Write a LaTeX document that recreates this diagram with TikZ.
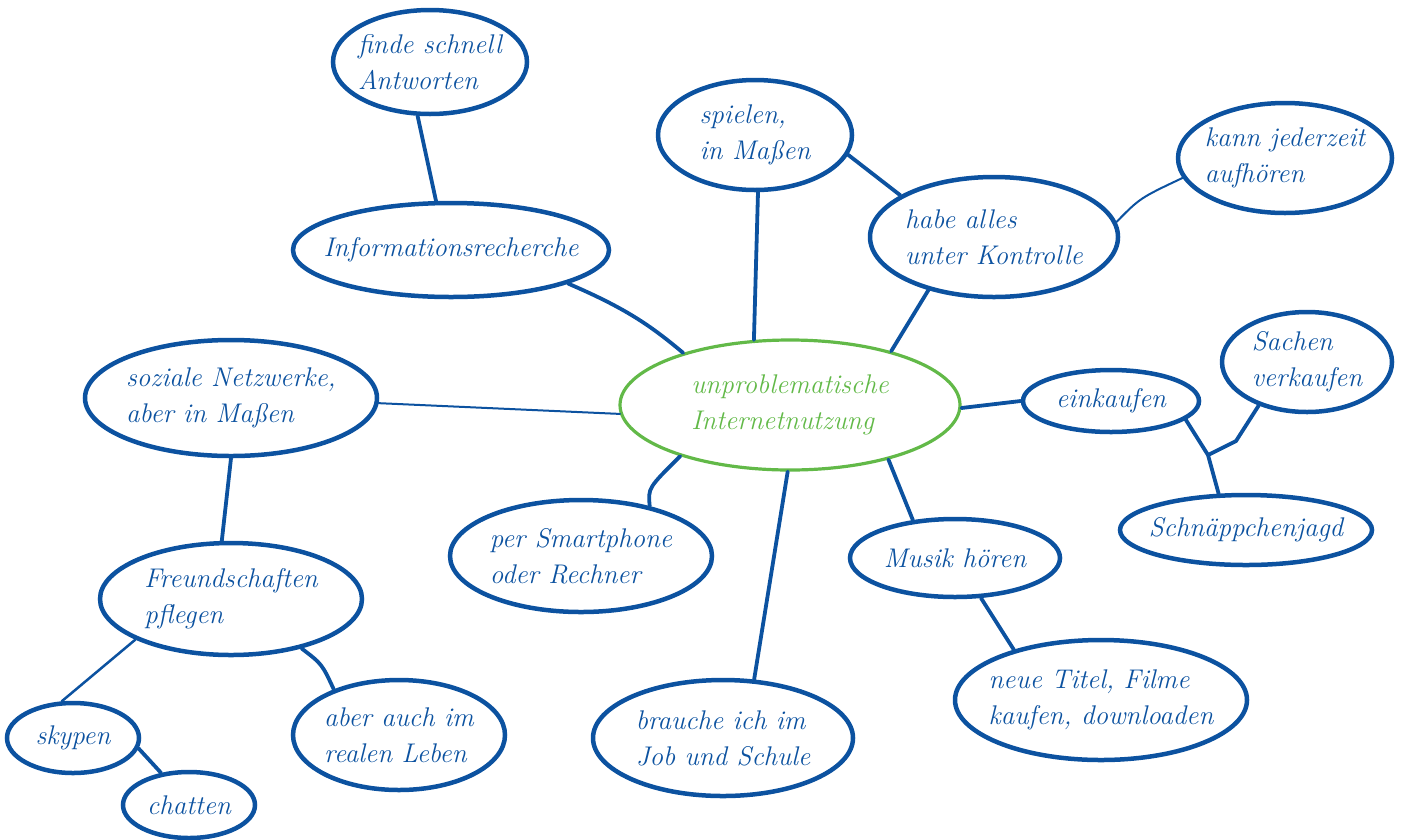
\documentclass[tikz,border=0pt]{standalone}
\usepackage{fontspec}
\usetikzlibrary{shapes.geometric}
\definecolor{mapblue}{RGB}{12,82,160}
\definecolor{mapgreen}{RGB}{98,185,72}
\begin{document}
\begin{tikzpicture}[x=1pt,y=-1pt,
  bubble/.style={ellipse, draw=mapblue, line width=4.5pt, text=mapblue,
    inner xsep=-80pt, inner ysep=-40pt,
    align=left, font=\fontsize{27}{36}\selectfont\itshape},
  link/.style={draw=mapblue, line width=3.8pt, line cap=round},
  thin link/.style={link, line width=2pt}]
\useasboundingbox (0,0) rectangle (1404,839);

\node[bubble, minimum width=194pt, minimum height=104pt] (finde) at (430,62) {finde schnell\\Antworten};
\node[bubble, minimum width=316pt, minimum height=94pt] (info) at (451,250) {Informationsrecherche};
\node[bubble, minimum width=194pt, minimum height=110pt] (spielen) at (755,135) {spielen,\\in Maßen};
\node[bubble, minimum width=248pt, minimum height=120pt] (habe) at (994,237) {habe alles\\unter Kontrolle};
\node[bubble, minimum width=214pt, minimum height=110pt] (kann) at (1285,158) {kann jederzeit\\aufhören};
\node[bubble, draw=mapgreen, text=mapgreen, line width=3.2pt, minimum width=340pt, minimum height=130pt] (center) at (790,405) {unproblematische\\Internetnutzung};
\node[bubble, minimum width=292pt, minimum height=116pt] (soziale) at (231,398) {soziale Netzwerke,\\aber in Maßen};
\node[bubble, minimum width=176pt, minimum height=62pt] (einkauf) at (1111,401) {einkaufen};
\node[bubble, minimum width=170pt, minimum height=100pt] (sachen) at (1307,362) {Sachen\\verkaufen};
\node[bubble, minimum width=252pt, minimum height=70pt] (schn) at (1246,530) {Schnäppchenjagd};
\node[bubble, minimum width=262pt, minimum height=112pt] (smart) at (581,556) {per Smartphone\\oder Rechner};
\node[bubble, minimum width=210pt, minimum height=78pt] (musik) at (955,558) {Musik hören};
\node[bubble, minimum width=262pt, minimum height=112pt] (freund) at (231,599) {Freundschaften\\pflegen};
\node[bubble, minimum width=292pt, minimum height=120pt] (neue) at (1101,700) {neue Titel, Filme\\kaufen, downloaden};
\node[bubble, minimum width=260pt, minimum height=116pt] (brauche) at (723,738) {brauche ich im\\Job und Schule};
\node[bubble, minimum width=212pt, minimum height=110pt] (aber) at (399,735) {aber auch im\\realen Leben};
\node[bubble, minimum width=132pt, minimum height=70pt] (skypen) at (73,738) {skypen};
\node[bubble, minimum width=132pt, minimum height=66pt] (chatten) at (189,805) {chatten};

\coordinate (j) at (1208,455);
\coordinate (jb) at (1236,441);

\draw[link] (finde.-103) -- (info.107);
\draw[link] (info.-16) .. controls (625,308) and (650,325) .. (center.154);
\draw[link] (spielen.-87) -- (center.119);
\draw[link] (spielen.-12) -- (habe.156);
\draw[thin link] (habe.7) .. controls (1140,198) .. (kann.191);
\draw[link] (habe.-141) -- (center.28);
\draw[thin link] (soziale.-2) -- (center.183);
\draw[link] (center.-1) -- (einkauf.180);
\draw[link] (einkauf.-14) -- (j) -- (schn.127);
\draw[link] (sachen.-138) -- (jb) -- (j);
\draw[link] (center.-155) .. controls (648,488) .. (smart.36);
\draw[link] (center.-92) -- (brauche.62);
\draw[link] (center.-29) -- (musik.138);
\draw[link] (musik.-57) -- (neue.150);
\draw[link] (soziale.-90) -- (freund.99);
\draw[thin link, line width=2.5pt] (freund.-157) -- (skypen.107);
\draw[link] (freund.-35) .. controls (322,664) .. (aber.145);
\draw[link] (skypen.-9) -- (chatten.131);
\end{tikzpicture}
\end{document}
